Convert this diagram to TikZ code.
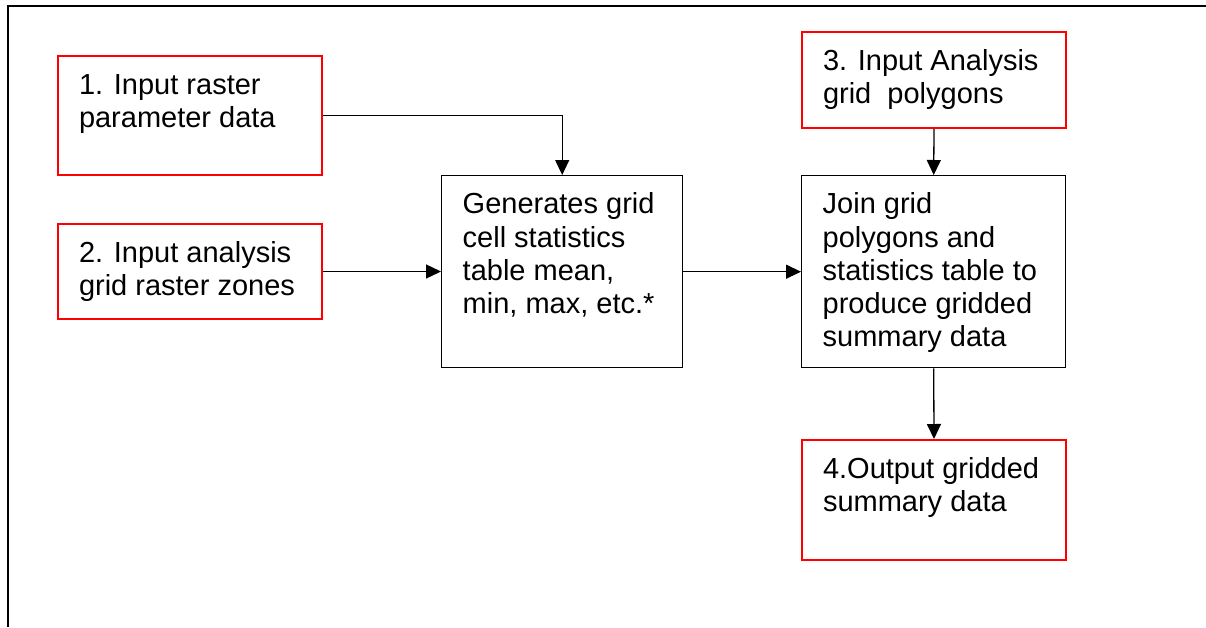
\documentclass[tikz,border=0pt]{standalone}
\usepackage{fontspec}
\setmainfont{Liberation Sans}
\usetikzlibrary{arrows.meta}

% Body of a stage box: width, height, lines of text (top-left aligned)
\newcommand\stagebody[3]{%
  \parbox[c][#2][t]{#1}{\leftskip=21pt\rightskip=0pt plus 1fil\parindent=0pt
    \rule{0pt}{38pt}#3}}

\begin{document}
\begin{tikzpicture}[x=1pt,y=-1pt,
  inout/.style={draw=red, line width=2pt, inner sep=0pt, anchor=north west,
    font=\fontsize{29}{33.3}\selectfont},
  proc/.style={draw=black, line width=1.4pt, inner sep=0pt, anchor=north west,
    font=\fontsize{29}{33.3}\selectfont},
  flow/.style={draw=black, line width=1.3pt, -{Triangle[length=15pt,width=14pt]}},
  frameline/.style={draw=black, line width=2pt}]

\useasboundingbox (0,0) rectangle (1206,627);

% page frame (top and left edges)
\coordinate (fbl) at (8,627);
\coordinate (ftl) at (8,6);
\coordinate (ftr) at (1206,6);
\draw[frameline] (fbl) -- (ftl) -- (ftr);

% input / output boxes
\node[inout] (b1) at (57,55)  {\stagebody{264pt}{119pt}{1. Input raster\\parameter data}};
\node[inout] (b2) at (57,223) {\stagebody{264pt}{95pt}{2. Input analysis\\grid raster zones}};
\node[inout] (b3) at (801,31) {\stagebody{264pt}{96pt}{3. Input Analysis\\grid\ \ polygons}};
\node[inout] (b4) at (801,439) {\stagebody{264pt}{120pt}{4.Output gridded\\summary data}};

% processing boxes
\node[proc] (gen) at (441,175) {\stagebody{241pt}{192pt}{Generates grid\\cell statistics\\table mean,\\min, max, etc.*}};
\node[proc] (join) at (801,175) {\stagebody{264pt}{192pt}{Join grid\\polygons and\\statistics table to\\produce gridded\\summary data}};

% connectors
\draw[flow] (b1.east) -| (gen.north);
\draw[flow] (b2.east) -- (b2.east -| gen.west);
\draw[flow] (gen.east) -- (join.west);
\draw[flow] (b3.south) -- (join.north);
\draw[flow] (join.south) -- (b4.north);
\end{tikzpicture}
\end{document}
